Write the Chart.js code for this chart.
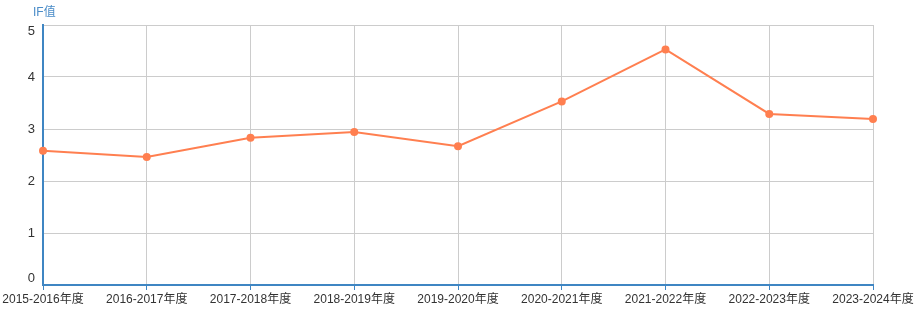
<!DOCTYPE html>
<html><head><meta charset="utf-8">
<script src="https://cdn.jsdelivr.net/npm/chart.js@4"></script>
<style>html,body{margin:0;padding:0;background:#fff}#wrap{width:916px;height:334px}</style>
</head><body><div id="wrap"><canvas id="c" width="916" height="334"></canvas></div>
<script>
const categories = ["2015-2016年度","2016-2017年度","2017-2018年度","2018-2019年度","2019-2020年度","2020-2021年度","2021-2022年度","2022-2023年度","2023-2024年度"];
const ifValues = [2.58, 2.46, 2.83, 2.94, 2.67, 3.53, 4.53, 3.29, 3.19];
const yTicks = [0, 1, 2, 3, 4, 5];
const yAxisName = "IF值";

const FONT = '"Liberation Sans", "Noto Sans CJK SC", sans-serif';
const axisBlue = '#3f86c3';

const labelPlugin = {
  id: 'ylabels',
  afterDraw(chart) {
    const ctx = chart.ctx;
    const ys = chart.scales.y;
    const ca = chart.chartArea;
    ctx.save();
    ctx.font = '12px ' + FONT;
    ctx.fillStyle = '#4a8cc8';
    ctx.textAlign = 'left';
    ctx.textBaseline = 'middle';
    ctx.fillText(yAxisName, ca.left - 10, 13);
    ctx.fillStyle = '#333';
    ctx.textAlign = 'right';
    ctx.font = '13px ' + FONT;
    yTicks.forEach(v => {
      let y = ys.getPixelForValue(v);
      y = Math.min(Math.max(y, ca.top + 6), ca.bottom - 7);
      ctx.fillText(String(v), ca.left - 8, y);
    });
    ctx.restore();
  }
};

new Chart(document.getElementById('c'), {
  type: 'line',
  data: {
    labels: categories,
    datasets: [{
      data: ifValues,
      borderColor: '#ff7f50',
      backgroundColor: '#ff7f50',
      borderWidth: 2,
      pointRadius: 3,
      pointHoverRadius: 3,
      pointBackgroundColor: '#ff7f50',
      pointBorderColor: '#ff7f50',
      tension: 0,
      fill: false
    }]
  },
  options: {
    responsive: false,
    animation: false,
    devicePixelRatio: 1,
    layout: { padding: { left: 0, right: 43, top: 25, bottom: 0 } },
    plugins: { legend: { display: false }, tooltip: { enabled: false } },
    scales: {
      x: {
        offset: false,
        grid: { color: '#cccccc', lineWidth: 1, tickLength: 5, tickColor: axisBlue, drawTicks: true },
        border: { color: axisBlue, width: 2 },
        ticks: { color: '#333', font: { size: 12, family: FONT }, padding: 2, maxRotation: 0, autoSkip: false },
        afterFit(s) { s.height = 334 - 285; }
      },
      y: {
        min: 0, max: 5,
        afterBuildTicks(s) { s.ticks = yTicks.map(v => ({ value: v })); },
        grid: { color: '#cccccc', lineWidth: 1, tickLength: 0, drawTicks: false },
        border: { color: axisBlue, width: 2 },
        ticks: { display: false },
        afterFit(s) { s.width = 43; }
      }
    }
  },
  plugins: [labelPlugin]
});
</script>
</body></html>
